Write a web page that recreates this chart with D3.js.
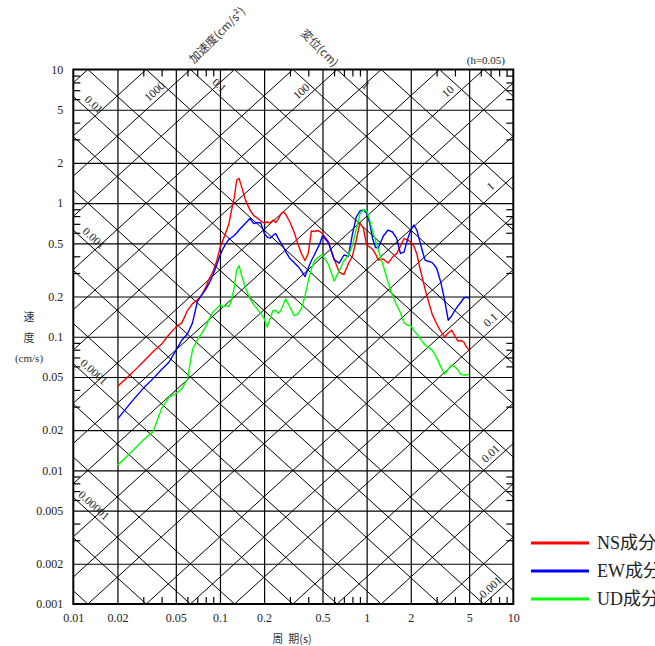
<!DOCTYPE html>
<html><head><meta charset="utf-8">
<script src="https://cdn.jsdelivr.net/npm/d3@7"></script>
<style>body{margin:0;background:#fff;overflow:hidden} svg{display:block}</style>
</head><body>
<script>
// ---------- data ----------
const periods = [0.02,0.025,0.03,0.035,0.04,0.045,0.05,0.055,0.06,0.065,0.07,0.075,0.08,0.085,0.09,0.095,0.1,0.105,0.11,0.115,0.12,0.125,0.13,0.135,0.14,0.15,0.16,0.17,0.18,0.19,0.2,0.21,0.22,0.23,0.24,0.25,0.26,0.27,0.28,0.3,0.32,0.34,0.36,0.38,0.4,0.42,0.44,0.46,0.48,0.5,0.55,0.6,0.65,0.7,0.75,0.8,0.85,0.9,0.95,1.0,1.05,1.1,1.15,1.2,1.3,1.4,1.5,1.6,1.7,1.8,1.9,2.0,2.1,2.2,2.3,2.4,2.5,2.6,2.8,3.0,3.2,3.4,3.6,3.8,4.0,4.2,4.4,4.6,4.8,5.0];
const nsVel = [0.0424,0.0532,0.065,0.0771,0.0881,0.104,0.118,0.127,0.157,0.177,0.188,0.205,0.235,0.275,0.31,0.369,0.461,0.53,0.608,0.698,0.888,1.09,1.49,1.53,1.34,1.04,0.888,0.807,0.773,0.734,0.71,0.722,0.71,0.748,0.716,0.76,0.828,0.863,0.828,0.722,0.608,0.494,0.416,0.372,0.421,0.618,0.613,0.624,0.613,0.592,0.512,0.382,0.305,0.292,0.351,0.402,0.53,0.71,0.651,0.486,0.469,0.45,0.416,0.375,0.382,0.356,0.394,0.419,0.476,0.543,0.53,0.512,0.476,0.416,0.332,0.275,0.228,0.195,0.147,0.125,0.11,0.0995,0.1066,0.112,0.101,0.0929,0.0937,0.0912,0.0837,0.0794];
const ewVel = [0.0242,0.0327,0.0411,0.0486,0.0568,0.0647,0.0788,0.0945,0.105,0.127,0.182,0.205,0.226,0.255,0.294,0.344,0.406,0.457,0.499,0.535,0.553,0.572,0.597,0.629,0.656,0.71,0.767,0.703,0.716,0.71,0.597,0.557,0.547,0.572,0.592,0.543,0.505,0.472,0.436,0.385,0.359,0.336,0.31,0.282,0.327,0.372,0.409,0.453,0.499,0.572,0.503,0.378,0.356,0.409,0.399,0.587,0.787,0.873,0.888,0.839,0.71,0.539,0.465,0.461,0.567,0.629,0.608,0.548,0.42,0.43,0.534,0.629,0.686,0.629,0.52,0.438,0.375,0.369,0.359,0.327,0.257,0.189,0.133,0.143,0.158,0.17,0.182,0.195,0.198,0.194];
const udVel = [0.0109,0.0138,0.0169,0.0195,0.029,0.0354,0.0376,0.0409,0.0482,0.0802,0.0946,0.106,0.119,0.138,0.154,0.163,0.173,0.168,0.172,0.168,0.188,0.233,0.316,0.341,0.292,0.228,0.193,0.174,0.161,0.149,0.137,0.118,0.138,0.157,0.157,0.15,0.158,0.173,0.192,0.167,0.144,0.148,0.163,0.202,0.261,0.321,0.369,0.388,0.402,0.409,0.347,0.261,0.311,0.369,0.406,0.482,0.64,0.828,0.895,0.873,0.747,0.613,0.525,0.45,0.338,0.257,0.203,0.173,0.152,0.127,0.122,0.121,0.111,0.105,0.0977,0.092,0.0867,0.0837,0.0794,0.0698,0.0598,0.0526,0.0573,0.0614,0.0598,0.0562,0.0521,0.0517,0.0517,0.0526];
const seriesNames = ["NS成分","EW成分","UD成分"];
const seriesColors = ["#ff0000","#0000ff","#00ff00"];
const xTickValues = [0.01,0.02,0.05,0.1,0.2,0.5,1,2,5,10];
const xTickLabels = ["0.01","0.02","0.05","0.1","0.2","0.5","1","2","5","10"];
const yTickValues = [0.001,0.002,0.005,0.01,0.02,0.05,0.1,0.2,0.5,1,2,5,10];
const yTickLabels = ["0.001","0.002","0.005","0.01","0.02","0.05","0.1","0.2","0.5","1","2","5","10"];
const accLabelValues = [1000,100,10,1,0.1,0.01,0.001];
const accLabelTexts = ["1000","100","10","1","0.1","0.01","0.001"];
const dispLabelValues = [0.1,1,0.01,0.001,0.0001,0.00001];
const dispLabelTexts = ["0.1","1","0.01","0.001","0.0001","0.00001"];

// ---------- layout ----------
const W = 655, H = 646;
const L = 73.3, R = 513.3, T = 69.5, B = 604;
const x = d3.scaleLog().domain([0.01, 10]).range([L, R]);
const y = d3.scaleLog().domain([0.001, 10]).range([B, T]);
const twoPi = 2 * Math.PI;
const serif = "'Liberation Serif','Times New Roman','Noto Sans CJK JP',serif";

const svg = d3.select("body").append("svg")
  .attr("width", W).attr("height", H)
  .style("font-family", serif);

svg.append("clipPath").attr("id", "clip").append("rect")
  .attr("x", L).attr("y", T).attr("width", R - L).attr("height", B - T);

const plot = svg.append("g").attr("clip-path", "url(#clip)");

// tripartite diagonal lines (1-2-5 levels)
const levels = [];
for (let e = -7; e <= 5; e++) for (const m of [1, 2, 5]) levels.push(+(m * Math.pow(10, e)).toPrecision(3));
const diag = plot.append("g").attr("stroke", "#000").attr("stroke-width", 1);
levels.forEach(a => { // acceleration: V = A T / 2pi
  diag.append("line")
    .attr("x1", x(0.01)).attr("y1", y(a * 0.01 / twoPi))
    .attr("x2", x(10)).attr("y2", y(a * 10 / twoPi));
});
levels.forEach(d => { // displacement: V = 2pi D / T
  diag.append("line")
    .attr("x1", x(0.01)).attr("y1", y(twoPi * d / 0.01))
    .attr("x2", x(10)).attr("y2", y(twoPi * d / 10));
});

// major grid (1-2-5)
const gridX = xTickValues.slice(1, -1), gridY = yTickValues.slice(1, -1);
svg.append("g").attr("transform", `translate(0,${B})`)
  .call(d3.axisBottom(x).tickValues(gridX).tickSize(-(B - T)).tickFormat(""))
  .call(g => g.select(".domain").remove())
  .selectAll("line").attr("stroke", "#000").attr("stroke-width", 1.2);
svg.append("g").attr("transform", `translate(${L},0)`)
  .call(d3.axisLeft(y).tickValues(gridY).tickSize(-(R - L)).tickFormat(""))
  .call(g => g.select(".domain").remove())
  .selectAll("line").attr("stroke", "#000").attr("stroke-width", 1.2);

// minor ticks on all four sides
const minorX = [], minorY = [];
for (let e = -2; e <= 0; e++) for (const m of [3, 4, 6, 7, 8, 9]) minorX.push(m * Math.pow(10, e));
for (let e = -3; e <= 0; e++) for (const m of [3, 4, 6, 7, 8, 9]) minorY.push(m * Math.pow(10, e));
const tk = 7;
[[d3.axisBottom(x).tickValues(minorX).tickSize(-tk), `translate(0,${B})`],
 [d3.axisTop(x).tickValues(minorX).tickSize(-tk), `translate(0,${T})`],
 [d3.axisLeft(y).tickValues(minorY).tickSize(-tk), `translate(${L},0)`],
 [d3.axisRight(y).tickValues(minorY).tickSize(-tk), `translate(${R},0)`]].forEach(([ax, tr]) => {
  svg.append("g").attr("transform", tr)
    .call(ax.tickFormat(""))
    .call(g => g.select(".domain").remove())
    .selectAll("line").attr("stroke", "#000").attr("stroke-width", 1.2);
});

// frame
svg.append("rect").attr("x", L).attr("y", T).attr("width", R - L).attr("height", B - T)
  .attr("fill", "none").attr("stroke", "#000").attr("stroke-width", 2);

// tick labels
const xa = svg.append("g").attr("transform", `translate(0,${B})`)
  .call(d3.axisBottom(x).tickValues(xTickValues).tickSize(0).tickPadding(9)
    .tickFormat((d, i) => xTickLabels[i]));
xa.select(".domain").remove();
xa.selectAll("text").attr("font-size", 12).attr("font-family", serif).attr("fill", "#222");
const ya = svg.append("g").attr("transform", `translate(${L},0)`)
  .call(d3.axisLeft(y).tickValues(yTickValues).tickSize(0).tickPadding(10)
    .tickFormat((d, i) => yTickLabels[i]));
ya.select(".domain").remove();
ya.selectAll("text").attr("font-size", 12).attr("font-family", serif).attr("fill", "#222");

// diagonal labels
const ang = Math.atan2(y(1) - y(10), x(10) - x(1)) * 180 / Math.PI; // ~42 deg
const dl = svg.append("g").attr("font-size", 11.5).attr("fill", "#222").attr("font-family", serif);
accLabelValues.forEach((a, i) => {
  let Tp = twoPi * 6.2 / a, Vp;
  if (Tp > 0.02 && Tp < 6) { Vp = 6.2; } else { Tp = 7.6; Vp = a * Tp / twoPi; }
  dl.append("text").attr("text-anchor", "middle")
    .attr("transform", `translate(${x(Tp)},${y(Vp)}) rotate(${-ang})`)
    .attr("dy", -4).text(accLabelTexts[i]);
});
dispLabelValues.forEach((d, i) => {
  let Tp = twoPi * d / 6.9, Vp;
  if (Tp > 0.02 && Tp < 6) { Vp = 6.9; } else { Tp = 0.0127; Vp = twoPi * d / Tp; }
  dl.append("text").attr("text-anchor", "middle")
    .attr("transform", `translate(${x(Tp)},${y(Vp)}) rotate(${ang})`)
    .attr("dy", -4).text(dispLabelTexts[i]);
});

// curves
const line = d3.line().x(d => x(d[0])).y(d => y(d[1]));
const curves = svg.append("g").attr("clip-path", "url(#clip)");
[nsVel, ewVel, udVel].forEach((vals, k) => {
  curves.append("path").datum(periods.map((p, i) => [p, vals[i]]))
    .attr("d", line).attr("fill", "none")
    .attr("stroke", seriesColors[k]).attr("stroke-width", 1.4).attr("stroke-linejoin", "round");
});

// titles
const cjk = "'Noto Sans CJK JP','Liberation Serif',serif";
svg.append("text").attr("transform", "translate(194,64) rotate(-45)")
  .attr("font-size", 11.5).attr("fill", "#333").attr("font-family", cjk).text("加速度(cm/s²)");
svg.append("text").attr("transform", "translate(300,34) rotate(45)")
  .attr("font-size", 11.5).attr("fill", "#333").attr("font-family", cjk).text("変位(cm)");
svg.append("text").attr("x", 505).attr("y", 64).attr("text-anchor", "end")
  .attr("font-size", 11).attr("fill", "#222").text("(h=0.05)");
const yt = svg.append("g").attr("font-size", 11).attr("fill", "#333").attr("text-anchor", "middle").attr("font-family", cjk);
yt.append("text").attr("x", 29).attr("y", 321).text("速");
yt.append("text").attr("x", 29).attr("y", 342).text("度");
yt.append("text").attr("x", 29).attr("y", 362).attr("font-family", serif).text("(cm/s)");
svg.append("text").attr("x", 292).attr("y", 643).attr("text-anchor", "middle")
  .attr("font-size", 11).attr("fill", "#333").attr("font-family", cjk)
  .attr("xml:space", "preserve").text("周  期(s)");

// legend (text runs off the right edge, as in the reference)
const lg = svg.append("g");
seriesNames.forEach((n, k) => {
  const ly = 543 + k * 28;
  lg.append("line").attr("x1", 531).attr("x2", 589).attr("y1", ly).attr("y2", ly)
    .attr("stroke", seriesColors[k]).attr("stroke-width", 3);
  lg.append("text").attr("x", 597).attr("y", ly + 6).attr("font-size", 18)
    .attr("fill", "#222").attr("font-family", serif).text(n);
});
</script>
</body></html>
